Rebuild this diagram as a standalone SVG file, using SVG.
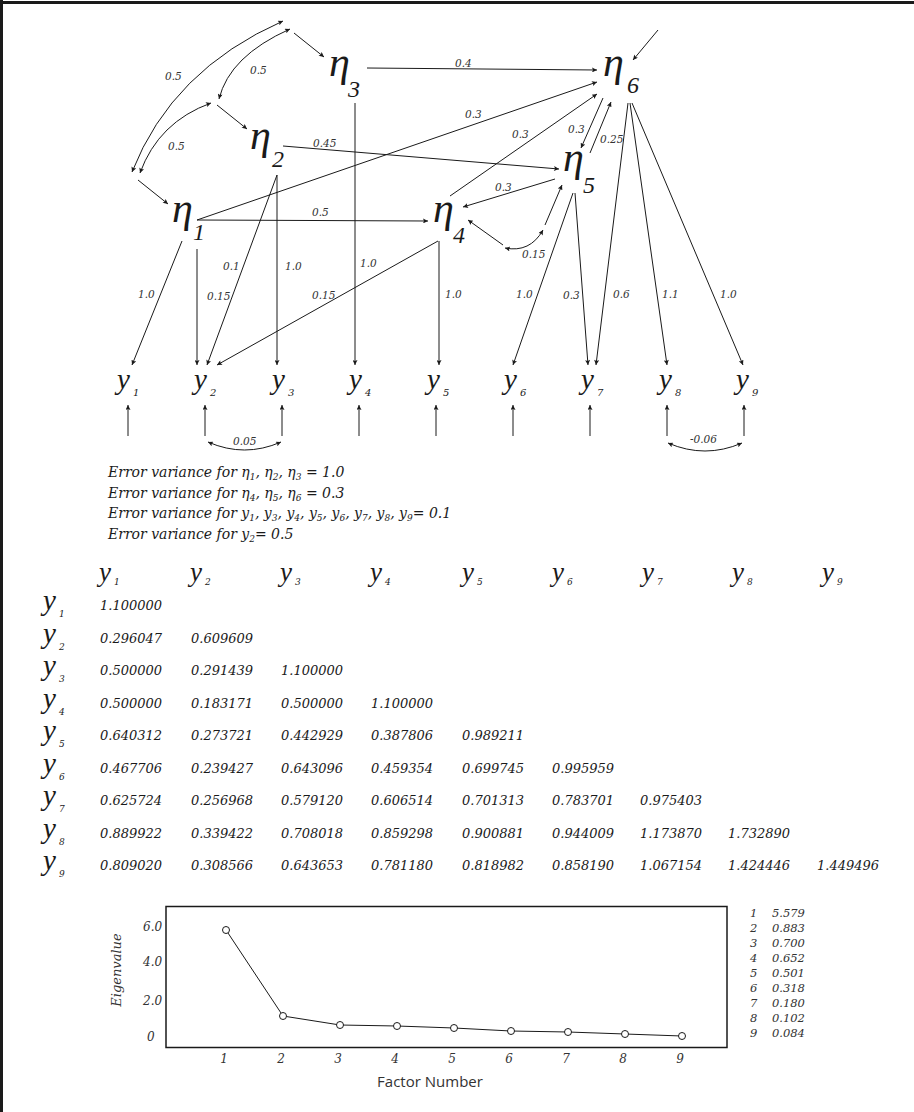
<svg xmlns="http://www.w3.org/2000/svg" width="914" height="1112" viewBox="0 0 914 1112">
<defs>
<marker id="ah" viewBox="0 0 10 10" refX="10" refY="5" markerWidth="7" markerHeight="5" markerUnits="userSpaceOnUse" orient="auto-start-reverse">
<path d="M0,0 L10,5 L0,10 L2,5 z" fill="#1a1a1a"/>
</marker>
<style>
.eta{font-family:"Liberation Serif","DejaVu Serif",serif;font-style:italic;font-size:42px;fill:#1a1a1a}
.etasub{font-family:"Liberation Serif","DejaVu Serif",serif;font-style:italic;font-size:24px;fill:#1a1a1a}
.yv{font-family:"Liberation Serif","DejaVu Serif",serif;font-style:italic;font-size:29px;fill:#1a1a1a}
.ysub{font-family:"DejaVu Serif",serif;font-style:italic;font-size:10px;fill:#1a1a1a}
.lbl{font-family:"DejaVu Serif",serif;font-style:italic;font-size:10.5px;fill:#333}
.ln{stroke:#1a1a1a;stroke-width:1;fill:none}
.arr{marker-end:url(#ah)}
.dbl{marker-start:url(#ah);marker-end:url(#ah)}
.ev{font-family:"DejaVu Serif",serif;font-style:italic;font-size:14px;fill:#1a1a1a}
.es{font-size:9px}
.hy{font-family:"Liberation Serif","DejaVu Serif",serif;font-style:italic;font-size:27px;fill:#1a1a1a}
.hs{font-family:"DejaVu Serif",serif;font-style:italic;font-size:9px;fill:#1a1a1a}
.ry{font-family:"Liberation Serif","DejaVu Serif",serif;font-style:italic;font-size:29px;fill:#1a1a1a}
.rs{font-family:"DejaVu Serif",serif;font-style:italic;font-size:9px;fill:#1a1a1a}
.num{font-family:"DejaVu Serif",serif;font-style:italic;font-size:13px;fill:#1a1a1a}
.ax{font-family:"DejaVu Serif",serif;font-style:italic;font-size:12px;fill:#333}
.ax2{font-family:"DejaVu Serif",serif;font-style:italic;font-size:13px;fill:#333}
.xt{font-family:"Open Sans","Liberation Sans",sans-serif;font-size:15px;fill:#333}
.ls{font-family:"DejaVu Serif",serif;font-style:italic;font-size:11.5px;fill:#333}
</style>
</defs>
<rect width="914" height="1112" fill="#fff"/>
<line x1="0" y1="2.5" x2="914" y2="2.5" stroke="#1a1a1a" stroke-width="3"/>
<line x1="1.5" y1="0" x2="1.5" y2="1112" stroke="#1a1a1a" stroke-width="3"/>

<g id="connectors" class="ln">
<path class="dbl" d="M283,21 Q172,70 132,172"/>
<path class="dbl" d="M290,29 Q229.5,56 219,99"/>
<path class="dbl" d="M211,103 Q158.5,122 140,173"/>
<line class="arr" x1="294" y1="33" x2="324" y2="57"/>
<line class="arr" x1="217" y1="105" x2="247" y2="129"/>
<line class="arr" x1="138" y1="180" x2="168" y2="204"/>
<line class="arr" x1="367" y1="68" x2="597" y2="70"/>
<line class="arr" x1="355" y1="103" x2="355" y2="365"/>
<line class="arr" x1="283" y1="146" x2="559" y2="169"/>
<line class="arr" x1="197" y1="220" x2="597" y2="82"/>
<line class="arr" x1="197" y1="220" x2="428" y2="221"/>
<line class="arr" x1="277" y1="175" x2="277" y2="365"/>
<line class="arr" x1="277" y1="175" x2="207" y2="365"/>
<line class="arr" x1="197" y1="249" x2="197" y2="365"/>
<line class="arr" x1="182" y1="241" x2="132" y2="365"/>
<line class="arr" x1="438" y1="241" x2="217" y2="365"/>
<line class="arr" x1="439" y1="241" x2="439" y2="365"/>
<line class="arr" x1="450" y1="196" x2="597" y2="94"/>
<line class="arr" x1="555" y1="179" x2="463" y2="207"/>
<line class="arr" x1="603" y1="98" x2="581" y2="148"/>
<line class="arr" x1="590" y1="153" x2="611" y2="102"/>
<line class="arr" x1="658" y1="30" x2="633" y2="60"/>
<line class="arr" x1="503" y1="245" x2="468" y2="220"/>
<line class="arr" x1="545" y1="225" x2="562" y2="185"/>
<path class="dbl" d="M505,248 Q530,253 543,230"/>
<line class="arr" x1="573" y1="193" x2="513" y2="365"/>
<line class="arr" x1="575" y1="193" x2="588" y2="365"/>
<line class="arr" x1="628" y1="103" x2="596" y2="365"/>
<line class="arr" x1="630" y1="103" x2="667" y2="365"/>
<line class="arr" x1="632" y1="103" x2="743" y2="365"/>
<line class="arr" x1="128" y1="436" x2="128" y2="405"/>
<line class="arr" x1="205" y1="436" x2="205" y2="405"/>
<line class="arr" x1="282" y1="436" x2="282" y2="405"/>
<line class="arr" x1="359" y1="436" x2="359" y2="405"/>
<line class="arr" x1="436" y1="436" x2="436" y2="405"/>
<line class="arr" x1="513" y1="436" x2="513" y2="405"/>
<line class="arr" x1="590" y1="436" x2="590" y2="405"/>
<line class="arr" x1="667" y1="436" x2="667" y2="405"/>
<line class="arr" x1="744" y1="436" x2="744" y2="405"/>
<path class="dbl" d="M208,442 Q244.5,458 281,442"/>
<path class="dbl" d="M668,443 Q705,459 742,443"/>
</g>

<g id="edge-labels" class="lbl">
<text x="165" y="80">0.5</text>
<text x="250" y="74">0.5</text>
<text x="168" y="150">0.5</text>
<text x="455" y="67">0.4</text>
<text x="313" y="147">0.45</text>
<text x="465" y="118">0.3</text>
<text x="312" y="216">0.5</text>
<text x="512" y="138">0.3</text>
<text x="495" y="191">0.3</text>
<text x="568" y="133">0.3</text>
<text x="600" y="143">0.25</text>
<text x="522" y="258">0.15</text>
<text x="223" y="270">0.1</text>
<text x="285" y="270">1.0</text>
<text x="360" y="267">1.0</text>
<text x="138" y="298">1.0</text>
<text x="207" y="300">0.15</text>
<text x="312" y="299">0.15</text>
<text x="445" y="298">1.0</text>
<text x="516" y="298">1.0</text>
<text x="563" y="299">0.3</text>
<text x="613" y="298">0.6</text>
<text x="662" y="298">1.1</text>
<text x="720" y="298">1.0</text>
<text x="233" y="445">0.05</text>
<text x="690" y="443">-0.06</text>
</g>

<g id="eta1"><text class="eta" x="172" y="222">η</text><text class="etasub" x="193" y="240">1</text></g>
<g id="eta2"><text class="eta" x="250" y="149">η</text><text class="etasub" x="272" y="167">2</text></g>
<g id="eta3"><text class="eta" x="329" y="76">η</text><text class="etasub" x="348" y="97">3</text></g>
<g id="eta4"><text class="eta" x="433" y="222">η</text><text class="etasub" x="453" y="243">4</text></g>
<g id="eta5"><text class="eta" x="563" y="171">η</text><text class="etasub" x="583" y="193">5</text></g>
<g id="eta6"><text class="eta" x="603" y="76">η</text><text class="etasub" x="627" y="93">6</text></g>

<g id="y1"><text class="yv" x="117" y="389">y</text><text class="ysub" x="133" y="396">1</text></g>
<g id="y2"><text class="yv" x="194" y="389">y</text><text class="ysub" x="210" y="396">2</text></g>
<g id="y3"><text class="yv" x="272" y="389">y</text><text class="ysub" x="288" y="396">3</text></g>
<g id="y4"><text class="yv" x="349" y="389">y</text><text class="ysub" x="365" y="396">4</text></g>
<g id="y5"><text class="yv" x="427" y="389">y</text><text class="ysub" x="443" y="396">5</text></g>
<g id="y6"><text class="yv" x="504" y="389">y</text><text class="ysub" x="520" y="396">6</text></g>
<g id="y7"><text class="yv" x="581" y="389">y</text><text class="ysub" x="597" y="396">7</text></g>
<g id="y8"><text class="yv" x="659" y="389">y</text><text class="ysub" x="675" y="396">8</text></g>
<g id="y9"><text class="yv" x="736" y="389">y</text><text class="ysub" x="752" y="396">9</text></g>

<g id="error-variances" class="ev">
<text x="108" y="477">Error variance for η<tspan class="es" dy="3">1</tspan><tspan dy="-3">, η</tspan><tspan class="es" dy="3">2</tspan><tspan dy="-3">, η</tspan><tspan class="es" dy="3">3</tspan><tspan dy="-3"> = 1.0</tspan></text>
<text x="108" y="497.5">Error variance for η<tspan class="es" dy="3">4</tspan><tspan dy="-3">, η</tspan><tspan class="es" dy="3">5</tspan><tspan dy="-3">, η</tspan><tspan class="es" dy="3">6</tspan><tspan dy="-3"> = 0.3</tspan></text>
<text x="108" y="518">Error variance for y<tspan class="es" dy="3">1</tspan><tspan dy="-3">, y</tspan><tspan class="es" dy="3">3</tspan><tspan dy="-3">, y</tspan><tspan class="es" dy="3">4</tspan><tspan dy="-3">, y</tspan><tspan class="es" dy="3">5</tspan><tspan dy="-3">, y</tspan><tspan class="es" dy="3">6</tspan><tspan dy="-3">, y</tspan><tspan class="es" dy="3">7</tspan><tspan dy="-3">, y</tspan><tspan class="es" dy="3">8</tspan><tspan dy="-3">, y</tspan><tspan class="es" dy="3">9</tspan><tspan dy="-3">= 0.1</tspan></text>
<text x="108" y="539">Error variance for y<tspan class="es" dy="3">2</tspan><tspan dy="-3">= 0.5</tspan></text>
</g>

<g id="matrix-header">
<text class="hy" x="99" y="581">y</text><text class="hs" x="114" y="585">1</text>
<text class="hy" x="190" y="581">y</text><text class="hs" x="205" y="585">2</text>
<text class="hy" x="280" y="581">y</text><text class="hs" x="295" y="585">3</text>
<text class="hy" x="370" y="581">y</text><text class="hs" x="385" y="585">4</text>
<text class="hy" x="462" y="581">y</text><text class="hs" x="477" y="585">5</text>
<text class="hy" x="552" y="581">y</text><text class="hs" x="567" y="585">6</text>
<text class="hy" x="642" y="581">y</text><text class="hs" x="657" y="585">7</text>
<text class="hy" x="732" y="581">y</text><text class="hs" x="747" y="585">8</text>
<text class="hy" x="822" y="581">y</text><text class="hs" x="837" y="585">9</text>
</g>

<g id="matrix-rows">
<text class="ry" x="43" y="610">y</text><text class="rs" x="59" y="617">1</text>
<text class="ry" x="43" y="642.5">y</text><text class="rs" x="59" y="649.5">2</text>
<text class="ry" x="43" y="675">y</text><text class="rs" x="59" y="682">3</text>
<text class="ry" x="43" y="707.5">y</text><text class="rs" x="59" y="714.5">4</text>
<text class="ry" x="43" y="740">y</text><text class="rs" x="59" y="747">5</text>
<text class="ry" x="43" y="772.5">y</text><text class="rs" x="59" y="779.5">6</text>
<text class="ry" x="43" y="805">y</text><text class="rs" x="59" y="812">7</text>
<text class="ry" x="43" y="837.5">y</text><text class="rs" x="59" y="844.5">8</text>
<text class="ry" x="43" y="870">y</text><text class="rs" x="59" y="877">9</text>
</g>

<g id="matrix-values" class="num">
<text x="100" y="610">1.100000</text>
<text x="100" y="642.5">0.296047</text><text x="191" y="642.5">0.609609</text>
<text x="100" y="675">0.500000</text><text x="191" y="675">0.291439</text><text x="281" y="675">1.100000</text>
<text x="100" y="707.5">0.500000</text><text x="191" y="707.5">0.183171</text><text x="281" y="707.5">0.500000</text><text x="371" y="707.5">1.100000</text>
<text x="100" y="740">0.640312</text><text x="191" y="740">0.273721</text><text x="281" y="740">0.442929</text><text x="371" y="740">0.387806</text><text x="462" y="740">0.989211</text>
<text x="100" y="772.5">0.467706</text><text x="191" y="772.5">0.239427</text><text x="281" y="772.5">0.643096</text><text x="371" y="772.5">0.459354</text><text x="462" y="772.5">0.699745</text><text x="552" y="772.5">0.995959</text>
<text x="100" y="805">0.625724</text><text x="191" y="805">0.256968</text><text x="281" y="805">0.579120</text><text x="371" y="805">0.606514</text><text x="462" y="805">0.701313</text><text x="552" y="805">0.783701</text><text x="640" y="805">0.975403</text>
<text x="100" y="837.5">0.889922</text><text x="191" y="837.5">0.339422</text><text x="281" y="837.5">0.708018</text><text x="371" y="837.5">0.859298</text><text x="462" y="837.5">0.900881</text><text x="552" y="837.5">0.944009</text><text x="640" y="837.5">1.173870</text><text x="728" y="837.5">1.732890</text>
<text x="100" y="870">0.809020</text><text x="191" y="870">0.308566</text><text x="281" y="870">0.643653</text><text x="371" y="870">0.781180</text><text x="462" y="870">0.818982</text><text x="552" y="870">0.858190</text><text x="640" y="870">1.067154</text><text x="728" y="870">1.424446</text><text x="817" y="870">1.449496</text>
</g>

<g id="scree-plot">
<rect x="166" y="906.5" width="561" height="141" fill="none" stroke="#1a1a1a" stroke-width="1.5"/>
<polyline points="226,930 283,1016 340,1025 397,1026 454,1028 511,1031 568,1032 625,1034 682,1036" fill="none" stroke="#1a1a1a" stroke-width="1"/>
<g fill="#fff" stroke="#1a1a1a" stroke-width="1">
<circle cx="226" cy="930" r="3.5"/><circle cx="283" cy="1016" r="3.5"/><circle cx="340" cy="1025" r="3.5"/>
<circle cx="397" cy="1026" r="3.5"/><circle cx="454" cy="1028" r="3.5"/><circle cx="511" cy="1031" r="3.5"/>
<circle cx="568" cy="1032" r="3.5"/><circle cx="625" cy="1034" r="3.5"/><circle cx="682" cy="1036" r="3.5"/>
</g>
<g class="ax">
<text x="143" y="931">6.0</text>
<text x="143" y="966">4.0</text>
<text x="143" y="1005">2.0</text>
<text x="147" y="1041">0</text>
</g>
<g class="ax" text-anchor="middle">
<text x="224" y="1063">1</text><text x="281" y="1063">2</text><text x="338" y="1063">3</text>
<text x="395" y="1063">4</text><text x="452" y="1063">5</text><text x="509" y="1063">6</text>
<text x="566" y="1063">7</text><text x="623" y="1063">8</text><text x="680" y="1063">9</text>
</g>
<text class="ax2" x="0" y="0" text-anchor="middle" transform="translate(121,970) rotate(-90)">Eigenvalue</text>
<text class="xt" x="430" y="1087" text-anchor="middle">Factor Number</text>
</g>

<g id="eigenvalue-list" class="ls">
<text x="750" y="917">1</text><text x="772" y="917">5.579</text>
<text x="750" y="932">2</text><text x="772" y="932">0.883</text>
<text x="750" y="947">3</text><text x="772" y="947">0.700</text>
<text x="750" y="962">4</text><text x="772" y="962">0.652</text>
<text x="750" y="977">5</text><text x="772" y="977">0.501</text>
<text x="750" y="992">6</text><text x="772" y="992">0.318</text>
<text x="750" y="1007">7</text><text x="772" y="1007">0.180</text>
<text x="750" y="1022">8</text><text x="772" y="1022">0.102</text>
<text x="750" y="1037">9</text><text x="772" y="1037">0.084</text>
</g>
</svg>
